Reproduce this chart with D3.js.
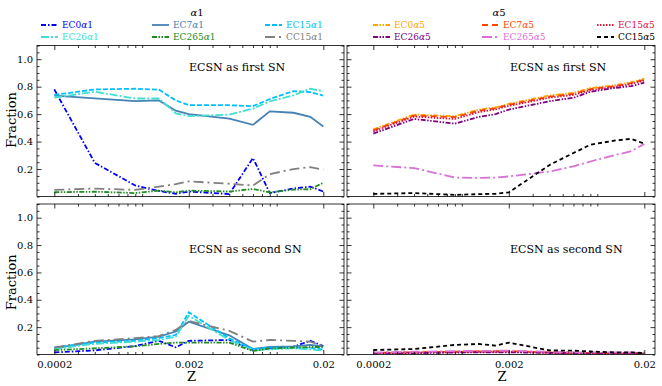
<!DOCTYPE html>
<html><head><meta charset="utf-8">
<script src="https://cdn.jsdelivr.net/npm/d3@7"></script>
<style>
html,body{margin:0;padding:0;background:#fff;}
text{font-family:"DejaVu Serif",serif;}
</style></head>
<body>
<svg id="c" width="662" height="386"></svg>
<script>
// ---------- data ----------
const Z = [0.0002, 0.0004, 0.0008, 0.0012, 0.0016, 0.002, 0.004, 0.006, 0.008, 0.012, 0.016, 0.02];
const xTicks = [0.0002, 0.002, 0.02];
const xTickLabels = ["0.0002", "0.002", "0.02"];
const yTicks = [0.2, 0.4, 0.6, 0.8, 1.0];
const yTickLabels = ["0.2", "0.4", "0.6", "0.8", "1.0"];

const namesA1 = ["EC0", "EC7", "EC15", "EC26", "EC265", "CC15"];
const namesA5 = ["EC0", "EC7", "EC15", "EC26", "EC265", "CC15"];

// first SN, alpha 1
const EC0a1_first   = [0.78, 0.245, 0.08, 0.04, 0.02, 0.036, 0.018, 0.28, 0.025, 0.058, 0.072, 0.036];
const EC7a1_first   = [0.735, 0.715, 0.695, 0.70, 0.625, 0.60, 0.567, 0.522, 0.62, 0.61, 0.58, 0.51];
const EC15a1_first  = [0.74, 0.78, 0.785, 0.778, 0.70, 0.665, 0.665, 0.658, 0.71, 0.768, 0.76, 0.735];
const EC26a1_first  = [0.72, 0.763, 0.714, 0.714, 0.605, 0.585, 0.597, 0.64, 0.694, 0.736, 0.785, 0.767];
const EC265a1_first = [0.031, 0.035, 0.025, 0.043, 0.03, 0.043, 0.036, 0.055, 0.03, 0.05, 0.053, 0.10];
const CC15a1_first  = [0.048, 0.058, 0.048, 0.072, 0.09, 0.11, 0.093, 0.08, 0.163, 0.2, 0.214, 0.195];
// first SN, alpha 5
const EC0a5_first   = [0.49, 0.597, 0.585, 0.633, 0.65, 0.675, 0.736, 0.755, 0.79, 0.81, 0.833, 0.858];
const EC7a5_first   = [0.482, 0.59, 0.578, 0.625, 0.643, 0.668, 0.728, 0.748, 0.783, 0.803, 0.826, 0.85];
const EC15a5_first  = [0.475, 0.582, 0.565, 0.615, 0.635, 0.66, 0.72, 0.74, 0.775, 0.797, 0.82, 0.845];
const EC26a5_first  = [0.458, 0.565, 0.531, 0.58, 0.60, 0.633, 0.694, 0.72, 0.763, 0.79, 0.804, 0.829];
const EC265a5_first = [0.226, 0.207, 0.138, 0.135, 0.138, 0.146, 0.182, 0.22, 0.255, 0.30, 0.33, 0.383];
const CC15a5_first  = [0.019, 0.025, 0.012, 0.017, 0.02, 0.03, 0.23, 0.317, 0.377, 0.407, 0.42, 0.385];
// second SN, alpha 1
const EC0a1_second   = [0.015, 0.03, 0.062, 0.1, 0.052, 0.1, 0.106, 0.032, 0.045, 0.057, 0.1, 0.062];
const EC7a1_second   = [0.045, 0.094, 0.11, 0.13, 0.168, 0.24, 0.14, 0.04, 0.055, 0.06, 0.07, 0.06];
const EC15a1_second  = [0.052, 0.087, 0.1, 0.12, 0.143, 0.308, 0.118, 0.04, 0.05, 0.05, 0.048, 0.037];
const EC26a1_second  = [0.04, 0.078, 0.094, 0.106, 0.13, 0.283, 0.106, 0.032, 0.038, 0.045, 0.037, 0.028];
const EC265a1_second = [0.032, 0.045, 0.06, 0.077, 0.087, 0.087, 0.087, 0.025, 0.045, 0.05, 0.055, 0.055];
const CC15a1_second  = [0.05, 0.1, 0.12, 0.135, 0.18, 0.245, 0.173, 0.094, 0.106, 0.1, 0.094, 0.062];
// second SN, alpha 5
const EC0a5_second   = [0.01, 0.015, 0.02, 0.022, 0.022, 0.022, 0.015, 0.01, 0.01, 0.008, 0.008, 0.008];
const EC7a5_second   = [0.012, 0.016, 0.02, 0.024, 0.024, 0.024, 0.016, 0.012, 0.01, 0.01, 0.01, 0.01];
const EC15a5_second  = [0.01, 0.014, 0.018, 0.02, 0.02, 0.02, 0.014, 0.01, 0.008, 0.008, 0.008, 0.008];
const EC26a5_second  = [0.006, 0.01, 0.014, 0.016, 0.016, 0.016, 0.012, 0.008, 0.006, 0.006, 0.006, 0.006];
const EC265a5_second = [0.015, 0.02, 0.025, 0.027, 0.027, 0.028, 0.02, 0.016, 0.015, 0.015, 0.015, 0.015];
const CC15a5_second  = [0.033, 0.04, 0.07, 0.077, 0.065, 0.087, 0.03, 0.028, 0.022, 0.015, 0.015, 0.01];

// ---------- styles ----------
const colA1 = ["#0000ff", "#4682b4", "#00bfff", "#40e0d0", "#228b22", "#808080"];
const colA5 = ["#ffa500", "#ff4500", "#dc143c", "#800080", "#da70d6", "#000000"];
const dashA1 = ["5,2,1.5,2", null, "5,2", "8,2,2,2", "5,1.5,1.5,1.5,1.5,1.5", "10,4,2,4"];
const dashA5 = ["5,1.5,1.5,1.5,1.5,1.5", "6,4", "1.5,1.5", "5,1.5,1.5,1.5,1.5,1.5", "10,3,2,3", "4,3"];

const panels = [
  {x0:37,  x1:344, y0:45.5, y1:196.5, xr:[54.3,323.3], series:[EC0a1_first,EC7a1_first,EC15a1_first,EC26a1_first,EC265a1_first,CC15a1_first], col:colA1, dash:dashA1, text:"ECSN as first SN", tx:189, ylab:true, xlab:false},
  {x0:347, x1:655, y0:45.5, y1:196.5, xr:[373.3,644.3], series:[EC0a5_first,EC7a5_first,EC15a5_first,EC26a5_first,EC265a5_first,CC15a5_first], col:colA5, dash:dashA5, text:"ECSN as first SN", tx:510, ylab:false, xlab:false},
  {x0:37,  x1:344, y0:204,  y1:354.5, xr:[54.3,323.3], series:[EC0a1_second,EC7a1_second,EC15a1_second,EC26a1_second,EC265a1_second,CC15a1_second], col:colA1, dash:dashA1, text:"ECSN as second SN", tx:189, ylab:true, xlab:true},
  {x0:347, x1:655, y0:204,  y1:354.5, xr:[373.3,644.3], series:[EC0a5_second,EC7a5_second,EC15a5_second,EC26a5_second,EC265a5_second,CC15a5_second], col:colA5, dash:dashA5, text:"ECSN as second SN", tx:510, ylab:false, xlab:true}
];

const svg = d3.select("#c");
const defs = svg.append("defs");
const minorX = [];
[0.0001,0.001,0.01].forEach(d=>{for(let k=2;k<=9;k++) minorX.push(+(d*k).toPrecision(3));});
const minorY = d3.range(0, 1.1001, 0.05).map(v=>+v.toFixed(2));

panels.forEach((p,i)=>{
  const x = d3.scaleLog().domain([0.0002,0.02]).range(p.xr);
  const y = d3.scaleLinear().domain([0,1.1]).range([p.y1,p.y0]);
  const xmin = x.invert(p.x0), xmax = x.invert(p.x1);
  const mx = minorX.filter(v=>v>=xmin && v<=xmax && !xTicks.includes(v));
  defs.append("clipPath").attr("id","cp"+i).append("rect")
    .attr("x",p.x0).attr("y",p.y0).attr("width",p.x1-p.x0).attr("height",p.y1-p.y0);
  const g = svg.append("g");
  const line = d3.line().x((d,j)=>x(Z[j])).y(d=>y(d));
  const lg = g.append("g").attr("clip-path","url(#cp"+i+")");
  p.series.forEach((s,k)=>{
    lg.append("path").datum(s).attr("d",line).attr("fill","none")
      .attr("stroke",p.col[k]).attr("stroke-width",1.8)
      .attr("stroke-dasharray",p.dash[k]);
  });
  // axes
  const mk = (axis, tr, vals, size, fmt)=>{
    const a = g.append("g").attr("transform",tr)
      .call(axis.tickValues(vals).tickSizeInner(size).tickSizeOuter(0).tickPadding(4).tickFormat(fmt));
    a.select(".domain").remove();
    a.selectAll("line").attr("stroke","#000").attr("stroke-width",0.8);
    return a;
  };
  const none = ()=>"";
  const bx = mk(d3.axisBottom(x), `translate(0,${p.y1})`, xTicks, -4.5, p.xlab ? (d,j)=>xTickLabels[j] : none);
  bx.selectAll("text").attr("font-size",10).attr("fill","#000").attr("dy","0.9em");
  mk(d3.axisBottom(x), `translate(0,${p.y1})`, mx, -2.5, none);
  mk(d3.axisTop(x), `translate(0,${p.y0})`, xTicks, -4.5, none);
  mk(d3.axisTop(x), `translate(0,${p.y0})`, mx, -2.5, none);
  const ly = mk(d3.axisLeft(y), `translate(${p.x0},0)`, yTicks, -4.5, p.ylab ? (d,j)=>yTickLabels[j] : none);
  ly.selectAll("text").attr("font-size",10).attr("fill","#000");
  mk(d3.axisLeft(y), `translate(${p.x0},0)`, minorY.filter(v=>!yTicks.includes(v)), -2.5, none);
  mk(d3.axisRight(y), `translate(${p.x1},0)`, yTicks, -4.5, none);
  mk(d3.axisRight(y), `translate(${p.x1},0)`, minorY.filter(v=>!yTicks.includes(v)), -2.5, none);
  g.append("rect").attr("x",p.x0).attr("y",p.y0).attr("width",p.x1-p.x0).attr("height",p.y1-p.y0)
    .attr("fill","none").attr("stroke","#000").attr("stroke-width",0.8);
  g.append("text").attr("x",p.tx).attr("y",(p.y0)+ (i<2?22:45)).attr("dy","0.35em")
    .attr("font-size",11).text(p.text);
  if(p.ylab){
    const cy=(p.y0+p.y1)/2+ (i<2?-1:3);
    g.append("text").attr("transform",`translate(11,${cy}) rotate(-90)`).attr("text-anchor","middle")
      .attr("dy","0.35em").attr("font-size",13).text("Fraction");
  }
  if(p.xlab){
    g.append("text").attr("x",(p.x0+p.x1)/2+1).attr("y",376).attr("dy","0.35em")
      .attr("text-anchor","middle").attr("font-size",13).text("Z");
  }
});

// legends
function legend(names, cols, dashes, suffix, cx, titleX){
  const t = svg.append("text").attr("x",titleX).attr("y",12).attr("dy","0.35em")
    .attr("text-anchor","middle").attr("font-size",10);
  t.append("tspan").attr("font-style","italic").text("α");
  t.append("tspan").text(suffix);
  names.forEach((n,k)=>{
    const col = k%3, row = Math.floor(k/3);
    const hx = cx[col], yy = 25 + row*12;
    svg.append("line").attr("x1",hx).attr("x2",hx+17).attr("y1",yy).attr("y2",yy)
      .attr("stroke",cols[k]).attr("stroke-width",1.8).attr("stroke-dasharray",dashes[k]);
    const tt = svg.append("text").attr("x",hx+21).attr("y",yy).attr("dy","0.35em")
      .attr("font-size",9).attr("fill",cols[k]);
    tt.append("tspan").text(n);
    tt.append("tspan").attr("font-style","italic").text("α");
    tt.append("tspan").text(suffix);
  });
}
legend(namesA1, colA1, dashA1, "1", [41,152,265], 197);
legend(namesA5, colA5, dashA5, "5", [373,482,597], 499);
</script>
</body></html>
